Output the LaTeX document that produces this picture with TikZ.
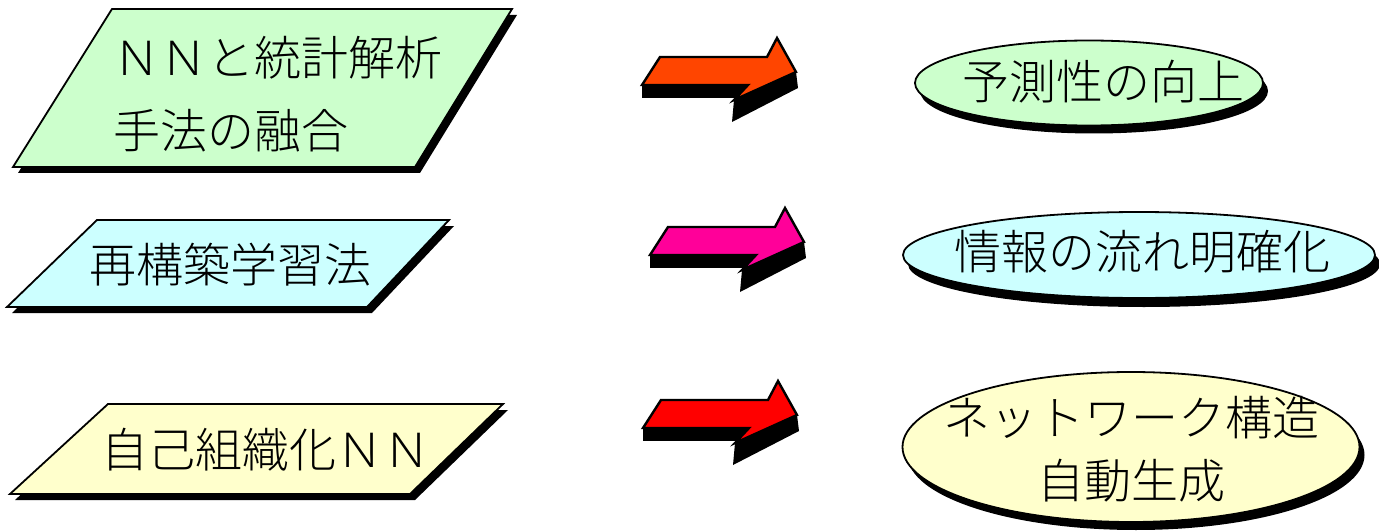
\documentclass[tikz,border=0pt]{standalone}
\usepackage{fontspec}
\newfontfamily\cjk{Noto Sans CJK JP Light}
\usetikzlibrary{shapes.geometric}
\definecolor{pgreen}{HTML}{CCFFCC}
\definecolor{pcyan}{HTML}{CCFFFF}
\definecolor{pyellow}{HTML}{FFFFCC}
\definecolor{aorange}{HTML}{FF4500}
\definecolor{amagenta}{HTML}{FF0099}
\definecolor{ared}{HTML}{FF0000}
\tikzset{
  pics/blockarrow/.style={code={
    \fill[black] (0,0) -- (0,13) -- (106,13) -- (106,0) -- cycle;
    \fill[black] (92,15) -- (90,37) -- (156,3) -- (154,-13) -- cycle;
    \filldraw[fill=#1, draw=black, line width=2.4pt, line join=miter]
      (18,-28) -- (125,-28) -- (135,-47) -- (154,-13) -- (92,15) -- (106,0) -- (0,0) -- cycle;
  }},
  outline/.style={draw=black, line width=1.8pt},
  lbl/.style={font=\cjk\fontsize{47}{73}\selectfont, inner sep=0pt, align=left},
  ell/.style={ellipse, inner sep=0pt, outline},
  ellshadow/.style={ellipse, inner sep=0pt, fill=black, draw=none}
}
\begin{document}
\begin{tikzpicture}[x=1pt,y=-1pt]
\useasboundingbox (0,0) rectangle (1379,532);
% parallelogram 1
\fill[black, shift={(5,6)}] (112,9) -- (512,9) -- (415,167) -- (13,167) -- cycle;
\filldraw[fill=pgreen, outline] (112,9) -- (512,9) -- (415,167) -- (13,167) -- cycle;
\node[lbl, anchor=west] (p1) at (113,94) {ＮＮと統計解析\\手法の融合};
% parallelogram 2
\fill[black, shift={(5,6)}] (97,220) -- (449,220) -- (367,307) -- (7,307) -- cycle;
\filldraw[fill=pcyan, outline] (97,220) -- (449,220) -- (367,307) -- (7,307) -- cycle;
\node[lbl, anchor=west] (p2) at (89,265) {再構築学習法};
% parallelogram 3
\fill[black, shift={(5,6)}] (108,404) -- (503,404) -- (410,494) -- (10,494) -- cycle;
\filldraw[fill=pyellow, outline] (108,404) -- (503,404) -- (410,494) -- (10,494) -- cycle;
\node[lbl, anchor=west] (p3) at (101,450) {自己組織化ＮＮ};
% arrows
\pic at (642,85) {blockarrow=aorange};
\pic at (650,255) {blockarrow=amagenta};
\pic at (643,428) {blockarrow=ared};
% ellipse 1
\node[ellshadow, minimum width=348pt, minimum height=85pt] at (1094,91) {};
\node[ell, fill=pgreen, minimum width=348pt, minimum height=85pt] (e1) at (1089,83) {};
\node[lbl] (t1) at (1103,82) {予測性の向上};
% ellipse 2
\node[ellshadow, minimum width=472pt, minimum height=86pt] at (1144,264) {};
\node[ell, fill=pcyan, minimum width=472pt, minimum height=86pt] (e2) at (1139,255) {};
\node[lbl] (t2) at (1142,252) {情報の流れ明確化};
% ellipse 3
\node[ellshadow, minimum width=457pt, minimum height=150pt] at (1136,455) {};
\node[ell, fill=pyellow, minimum width=457pt, minimum height=150pt] (e3) at (1131,447) {};
\node[lbl, align=center, font=\cjk\fontsize{47}{63}\selectfont] (t3) at (1131,449) {ネットワーク構造\\自動生成};
\end{tikzpicture}
\end{document}
